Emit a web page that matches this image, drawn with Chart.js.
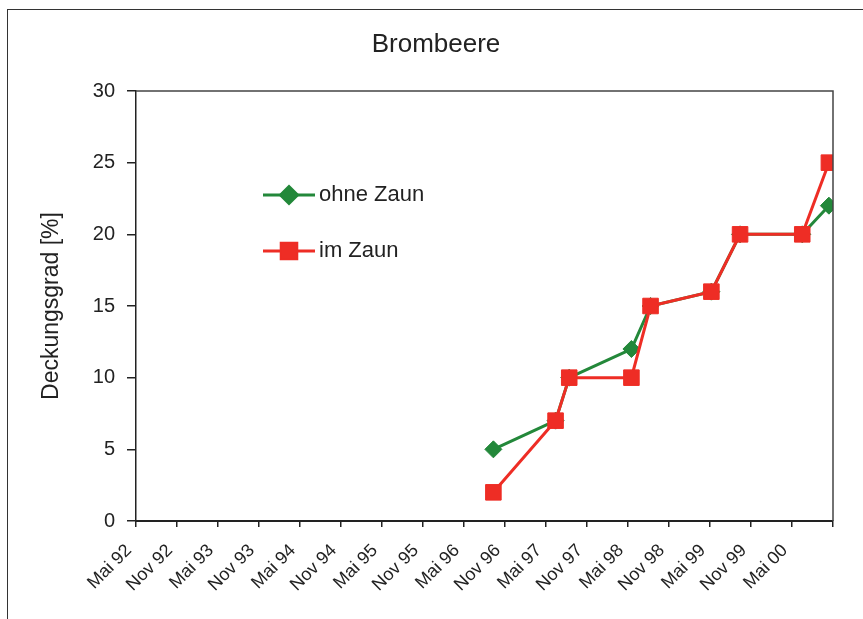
<!DOCTYPE html>
<html>
<head>
<meta charset="utf-8">
<script src="https://cdn.jsdelivr.net/npm/chart.js@4/dist/chart.umd.min.js"></script>
<style>
  html, body { margin: 0; padding: 0; background: #fff; }
  #wrap { width: 863px; height: 619px; position: relative; }
</style>
</head>
<body>
<div id="wrap"><canvas id="chart"></canvas></div>
<script>
// Brombeere - Deckungsgrad
const tickLabels = ['Mai 92', 'Nov 92', 'Mai 93', 'Nov 93', 'Mai 94', 'Nov 94', 'Mai 95', 'Nov 95', 'Mai 96',
    'Nov 96', 'Mai 97', 'Nov 97', 'Mai 98', 'Nov 98', 'Mai 99', 'Nov 99', 'Mai 00'];
// months since Mai 92
const surveyMonths = [52.3, 61.4, 63.4, 72.5, 75.3, 84.2, 88.4, 97.5, 101.4];
const ohneZaun = [5, 7, 10, 12, 15, 16, 20, 20, 22];
const imZaun = [2, 7, 10, 10, 15, 16, 20, 20, 25];

const GREEN = '#23883A';
const RED = '#EE2D25';
const FONT = "'Liberation Sans', Arial, sans-serif";

(function() {
    const ctx = document.getElementById('chart').getContext('2d');

    const toPoints = vals => vals.map((v, i) => ({ x: surveyMonths[i], y: v }));

    // outer frame, title + plot box
    const framePlugin = {
        id: 'frame',
        beforeDraw(chart) {
            const c = chart.ctx;
            c.save();
            c.fillStyle = '#fff';
            c.fillRect(0, 0, chart.width, chart.height);
            c.strokeStyle = '#333';
            c.lineWidth = 1;
            c.strokeRect(7.5, 9.5, 1000, 1000);
            c.fillStyle = '#222';
            c.font = '26px ' + FONT;
            c.textAlign = 'center';
            c.textBaseline = 'middle';
            c.fillText('Brombeere', 436, 45);
            c.restore();
        },
        afterDatasetsDraw(chart) {
            const a = chart.chartArea;
            const c = chart.ctx;
            c.save();
            c.strokeStyle = '#444';
            c.lineWidth = 1.5;
            c.beginPath();
            c.moveTo(a.left, a.top);
            c.lineTo(a.right, a.top);
            c.lineTo(a.right, a.bottom);
            c.stroke();
            c.restore();
        }
    };

    // legend drawn inside the plot
    const legendPlugin = {
        id: 'innerLegend',
        afterDraw(chart) {
            const c = chart.ctx;
            const items = [
                { text: 'ohne Zaun', color: GREEN, style: 'rectRot', r: 8.5, y: 195 },
                { text: 'im Zaun', color: RED, style: 'rect', r: 11, y: 251 }
            ];
            c.save();
            items.forEach(it => {
                c.strokeStyle = it.color;
                c.lineWidth = 3;
                c.beginPath();
                c.moveTo(263, it.y);
                c.lineTo(315, it.y);
                c.stroke();
                c.fillStyle = it.color;
                Chart.helpers.drawPoint(c, { pointStyle: it.style, radius: it.r, rotation: 0, borderWidth: 1 }, 289, it.y);
                c.fill();
                c.fillStyle = '#222';
                c.font = '22px ' + FONT;
                c.textBaseline = 'middle';
                c.textAlign = 'left';
                c.fillText(it.text, 319, it.y);
            });
            c.restore();
        }
    };

    new Chart(ctx, {
        type: 'line',
        data: {
            datasets: [{
                label: 'ohne Zaun',
                data: toPoints(ohneZaun),
                borderColor: GREEN,
                backgroundColor: GREEN,
                borderWidth: 3,
                tension: 0,
                pointStyle: 'rectRot',
                pointRadius: 8.5,
                pointBorderWidth: 1,
                order: 2
            }, {
                label: 'im Zaun',
                data: toPoints(imZaun),
                borderColor: RED,
                backgroundColor: RED,
                borderWidth: 3,
                tension: 0,
                pointStyle: 'rect',
                pointRadius: 11,
                pointBorderWidth: 1,
                order: 1
            }]
        },
        options: {
            responsive: true,
            maintainAspectRatio: false,
            animation: false,
            layout: {
                padding: { left: 8, right: 30, top: 91, bottom: 0 }
            },
            plugins: {
                legend: { display: false },
                tooltip: { enabled: false },
                title: { display: false }
            },
            scales: {
                x: {
                    type: 'linear',
                    min: 0,
                    max: 102,
                    afterFit: function(scale) { scale.height = 98; },
                    grid: {
                        drawOnChartArea: false,
                        drawTicks: true,
                        tickLength: 6,
                        color: '#222',
                        lineWidth: 1.5
                    },
                    border: { color: '#222', width: 2 },
                    ticks: {
                        stepSize: 6,
                        autoSkip: false,
                        maxRotation: 45,
                        minRotation: 45,
                        padding: 6,
                        color: '#222',
                        font: { family: FONT, size: 18 },
                        callback: function(value) {
                            const lbl = tickLabels[Math.round(value / 6)];
                            return lbl ? lbl + '  ' : '';
                        }
                    }
                },
                y: {
                    min: 0,
                    max: 30,
                    afterFit: function(scale) { scale.width = 128; },
                    grid: {
                        drawOnChartArea: false,
                        drawTicks: true,
                        tickLength: 9,
                        color: '#222',
                        lineWidth: 1.5
                    },
                    border: { color: '#222', width: 1.5 },
                    title: {
                        display: true,
                        text: 'Deckungsgrad [%]',
                        color: '#222',
                        font: { family: FONT, size: 23 },
                        padding: { top: 30, bottom: 0 }
                    },
                    ticks: {
                        stepSize: 5,
                        padding: 12,
                        color: '#222',
                        font: { family: FONT, size: 20 }
                    }
                }
            }
        },
        plugins: [framePlugin, legendPlugin]
    });
})();
</script>
</body>
</html>
